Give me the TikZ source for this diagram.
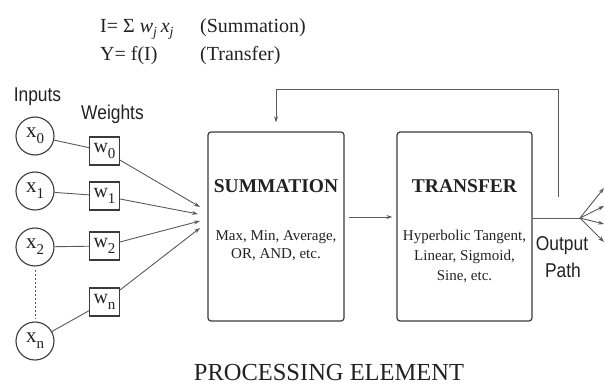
\documentclass[tikz,border=0pt]{standalone}
\usepackage{fontspec}
\setmainfont{Liberation Serif}
\newfontfamily\narrowsans[FakeStretch=0.87]{Liberation Sans}
\usetikzlibrary{arrows.meta}
\definecolor{ink}{HTML}{222222}
\definecolor{edge}{HTML}{3A3A3A}
\definecolor{wirec}{HTML}{5A5A5A}
\newcommand\lowsub[1]{\raisebox{-0.28em}{\fontsize{15}{15}\selectfont #1}}
\begin{document}
\begin{tikzpicture}[x=1pt,y=-1pt,
  inp/.style={circle,draw=edge,line width=1.1pt,minimum size=38pt,inner sep=0pt,text=ink,font=\fontsize{21}{21}\selectfont},
  wbox/.style={rectangle,draw=edge,line width=1.1pt,minimum width=30pt,minimum height=28pt,inner sep=0pt,text=ink,font=\fontsize{20}{20}\selectfont},
  pbox/.style={rectangle,rounded corners=3pt,draw=edge,line width=1.2pt,minimum height=189pt,inner sep=0pt},
  wire/.style={draw=wirec,line width=0.9pt},
  arr/.style={wire,-{Stealth[length=6pt,width=4pt]}},
  lbl/.style={anchor=base,text=ink,inner sep=0pt},
  lblw/.style={anchor=base west,text=ink,inner sep=0pt,font=\fontsize{20}{20}\selectfont},
  head/.style={lbl,font=\fontsize{19.5}{20}\selectfont\bfseries},
  body/.style={lbl,font=\fontsize{15}{15}\selectfont},
  sans/.style={lbl,font=\fontsize{20}{20}\selectfont\narrowsans},
]
\useasboundingbox (0,0) rectangle (604,385);

% formulas
\node[lblw] (f1) at (100,33) {I= Σ \textit{w}\textsubscript{\textit{j}}\,\textit{x}\textsubscript{\textit{j}}};
\node[lblw] (f1t) at (200,33) {(Summation)};
\node[lblw] (f2) at (100,60.5) {Y= f(I)};
\node[lblw] (f2t) at (200,60.5) {(Transfer)};

% headings
\node[sans] (inputs) at (37.5,102) {Inputs};
\node[sans] (weights) at (112.5,119) {Weights};

% inputs
\node[inp] (x0) at (35,136) {x\lowsub{0}};
\node[inp] (x1) at (35,191) {x\lowsub{1}};
\node[inp] (x2) at (35,247) {x\lowsub{2}};
\node[inp] (xn) at (35,341) {x\lowsub{n}};

% weights
\node[wbox] (w0) at (104.5,151) {w\lowsub{0}};
\node[wbox] (w1) at (104.5,196) {w\lowsub{1}};
\node[wbox] (w2) at (104.5,246) {w\lowsub{2}};
\node[wbox] (wn) at (104.5,302) {w\lowsub{n}};

% processing boxes
\node[pbox,minimum width=136pt] (sum) at (276,226.5) {};
\node[pbox,minimum width=135pt] (trans) at (464.5,226.5) {};

\node[head] (sumh) at (276,192) {SUMMATION};
\node[body] (sum1) at (276,240) {Max, Min, Average,};
\node[body] (sum2) at (276,258) {OR, AND, etc.};

\node[head] (trh) at (464.5,192) {TRANSFER};
\node[body] (tr1) at (464.5,240) {Hyperbolic Tangent,};
\node[body] (tr2) at (464.5,260) {Linear, Sigmoid,};
\node[body] (tr3) at (464.5,280) {Sine, etc.};

\node[sans] (out1) at (562,250) {Output};
\node[sans] (out2) at (563,277) {Path};

\node[lbl,font=\fontsize{24.5}{25}\selectfont] (pe) at (329,380.5) {PROCESSING ELEMENT};

% connections inputs -> weights
\draw[wire] (x0) -- (w0);
\draw[wire] (x1) -- (w1);
\draw[wire] (x2) -- (w2);
\draw[wire] (xn) -- (wn);
\draw[wire,dash pattern=on 2pt off 2pt,shorten <=3pt,shorten >=3pt] (x2) -- (xn);

% weights -> summation
\coordinate (c0) at (200,207);
\coordinate (c1) at (198,214);
\coordinate (c2) at (200,221);
\coordinate (c3) at (200,228);
\draw[arr] (w0) -- (c0);
\draw[arr] (w1) -- (c1);
\draw[arr] (w2) -- (c2);
\draw[arr] (wn) -- (c3);

% summation -> transfer
\draw[arr,shorten <=4pt,shorten >=4pt] ([yshift=9.5pt]sum.east) -- ([yshift=9.5pt]trans.west);

% output path
\coordinate (fan) at (580,218);
\draw[wire] ([yshift=8.5pt]trans.east) -- (fan);
\coordinate (o1) at (604,188);
\coordinate (o2) at (604,206);
\coordinate (o3) at (604,224);
\coordinate (o4) at (604,242);
\draw[arr] (fan) -- (o1);
\draw[arr] (fan) -- (o2);
\draw[arr] (fan) -- (o3);
\draw[arr] (fan) -- (o4);

% feedback
\coordinate (fb) at (558,197);
\coordinate (fbtop) at (558,89);
\draw[arr] (fb) -- (fbtop) -| ([yshift=9pt]sum.north);
\end{tikzpicture}
\end{document}
